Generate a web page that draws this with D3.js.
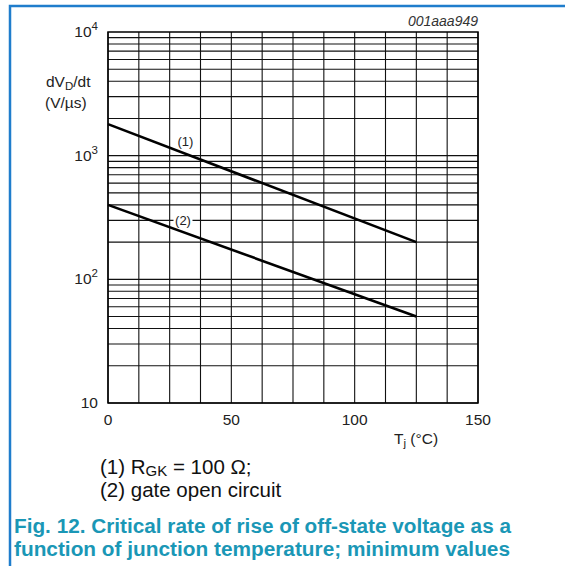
<!DOCTYPE html>
<html>
<head>
<meta charset="utf-8">
<script src="https://cdn.jsdelivr.net/npm/d3@7"></script>
<style>
  body { margin: 0; background: #fff; }
  svg { display: block; font-family: Arial, "Liberation Sans", Helvetica, sans-serif; }
</style>
</head>
<body>
<div id="chart"></div>
<script>
// chart values
var tempTicks = [0, 50, 100, 150];
var decadeTicks = [10, 100, 1000, 10000];
var series1Temp = [0, 125];
var series1Rate = [1800, 200];
var series2Temp = [0, 125];
var series2Rate = [400, 50];
var legendLines = ["(1) R_GK = 100 Ω;", "(2) gate open circuit"];
var captionLines = [
    "Fig. 12. Critical rate of rise of off-state voltage as a",
    "function of junction temperature; minimum values"
];

var W = 565, H = 566;
var margin = { top: 32, left: 108, right: 87, bottom: 163 };
var width = W - margin.left - margin.right;   // 370
var height = H - margin.top - margin.bottom;  // 371

var svg = d3.select("#chart").append("svg")
    .attr("width", W)
    .attr("height", H);

// blue frame of the figure box
svg.append("path")
    .attr("d", "M10,566 L10,6 L565,6")
    .attr("fill", "none")
    .attr("stroke", "#1f7dcc")
    .attr("stroke-width", 2.5);

var g = svg.append("g")
    .attr("transform", "translate(" + margin.left + "," + margin.top + ")");

var x = d3.scaleLinear().domain([0, 150]).range([0, width]);
var y = d3.scaleLog().domain([10, 10000]).range([height, 0]);

// grid: verticals every 12.5 degC
var xGrid = d3.range(0, 150.1, 12.5);
g.selectAll(".vgrid").data(xGrid).enter().append("line")
    .attr("x1", d => x(d)).attr("x2", d => x(d))
    .attr("y1", 0).attr("y2", height)
    .attr("stroke", "#111").attr("stroke-width", 1.1);

// horizontal grid: 1..9 within each decade
var yGrid = [];
decadeTicks.slice(0, 3).forEach(function(dec) {
    for (var k = 1; k <= 9; k++) yGrid.push(dec * k);
});
g.selectAll(".hgrid").data(yGrid).enter().append("line")
    .attr("x1", 0).attr("x2", width)
    .attr("y1", d => y(d)).attr("y2", d => y(d))
    .attr("stroke", "#111").attr("stroke-width", 1.1);

g.append("rect")
    .attr("width", width).attr("height", height)
    .attr("fill", "none").attr("stroke", "#000").attr("stroke-width", 1.5);

// y tick labels 10, 10^2, 10^3, 10^4
var ylab = g.selectAll(".ylab").data(decadeTicks).enter().append("text")
    .attr("x", -10)
    .attr("y", d => y(d) + 5)
    .attr("text-anchor", "end")
    .attr("font-size", 15.5)
    .attr("fill", "#222");
ylab.each(function(d) {
    var t = d3.select(this);
    var e = Math.round(Math.log10(d));
    t.append("tspan").text("10");
    if (e > 1) {
        t.append("tspan").attr("dy", -7).attr("font-size", 11.5).text(e);
    }
});

// x tick labels
g.selectAll(".xlab").data(tempTicks).enter().append("text")
    .attr("x", d => x(d))
    .attr("y", height + 22)
    .attr("text-anchor", "middle")
    .attr("font-size", 15.5)
    .attr("fill", "#222")
    .text(d => d);

// axis titles
var yt = g.append("text")
    .attr("x", -62).attr("y", 55)
    .attr("font-size", 15.5).attr("fill", "#222");
yt.append("tspan").text("dV");
yt.append("tspan").attr("font-size", 11.5).attr("dy", 3).text("D");
yt.append("tspan").attr("dy", -3).text("/dt");

g.append("text")
    .attr("x", -63).attr("y", 76)
    .attr("font-size", 15.5).attr("fill", "#222")
    .text("(V/µs)");

var xt = g.append("text")
    .attr("x", 286).attr("y", height + 41)
    .attr("font-size", 15.5).attr("fill", "#222");
xt.append("tspan").text("T");
xt.append("tspan").attr("font-size", 11.5).attr("dy", 3).text("j");
xt.append("tspan").attr("dy", -3).text(" (°C)");

// the two curves
var line = d3.line().x(d => x(d[0])).y(d => y(d[1]));
var curves = [
    { id: "1", pts: d3.zip(series1Temp, series1Rate) },
    { id: "2", pts: d3.zip(series2Temp, series2Rate) }
];
g.selectAll(".curve").data(curves).enter().append("path")
    .attr("d", d => line(d.pts))
    .attr("fill", "none")
    .attr("stroke", "#000")
    .attr("stroke-width", 2.6);

// curve labels
g.append("text")
    .attr("x", x(31.4)).attr("y", y(1200))
    .attr("text-anchor", "middle")
    .attr("font-size", 13).attr("fill", "#222")
    .text("(1)");

// (2) sits on the 300 gridline, which it breaks
var lab2 = g.append("g").attr("transform", "translate(" + x(30.4) + "," + y(300) + ")");
lab2.append("rect")
    .attr("x", -9.5).attr("y", -3).attr("width", 19).attr("height", 6)
    .attr("fill", "#fff");
lab2.append("text")
    .attr("y", 4.5)
    .attr("text-anchor", "middle")
    .attr("font-size", 13).attr("fill", "#222")
    .text("(2)");

// drawing id
svg.append("text")
    .attr("x", 478).attr("y", 26)
    .attr("text-anchor", "end")
    .attr("font-size", 14)
    .attr("font-style", "italic")
    .attr("fill", "#333")
    .text("001aaa949");

// legend under chart
var leg1 = svg.append("text")
    .attr("x", 100).attr("y", 474)
    .attr("font-size", 20.5).attr("fill", "#111");
leg1.append("tspan").text("(1) R");
leg1.append("tspan").attr("font-size", 15).attr("dy", 2).text("GK");
leg1.append("tspan").attr("dy", -2).text(" = 100 Ω;");

svg.append("text")
    .attr("x", 100).attr("y", 497)
    .attr("font-size", 20.5).attr("fill", "#111")
    .text(legendLines[1]);

// caption
svg.selectAll(".cap").data(captionLines).enter().append("text")
    .attr("x", 14)
    .attr("y", (d, i) => 533 + i * 23)
    .attr("font-size", 20)
    .attr("font-weight", "bold")
    .attr("fill", "#1a97b6")
    .attr("textLength", (d, i) => i === 0 ? 497 : 496)
    .attr("lengthAdjust", "spacingAndGlyphs")
    .text(d => d);
</script>
</body>
</html>
